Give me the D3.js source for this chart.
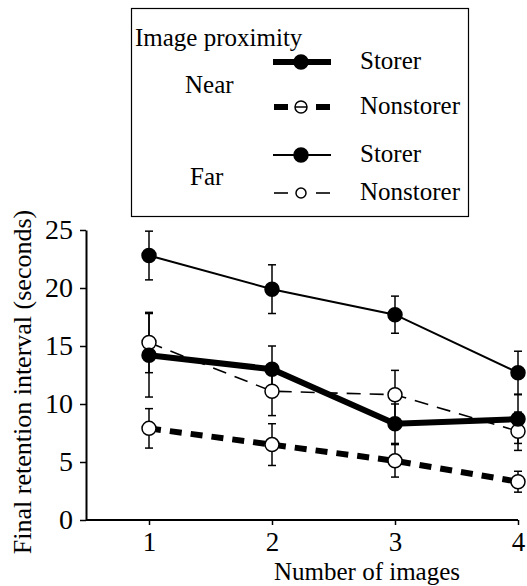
<!DOCTYPE html>
<html>
<head>
<meta charset="utf-8">
<script src="https://cdn.jsdelivr.net/npm/d3@7"></script>
<style>
  body { margin: 0; background: #fff; }
  svg { display: block; }
  svg text { font-family: "Liberation Serif", Tinos, "Times New Roman", Times, "DejaVu Serif", serif; }
</style>
</head>
<body>
<div id="chart"></div>
<script>
// values
const numImages = [1, 2, 3, 4]
const nearStorer = [14.2, 13.0, 8.3, 8.7]
const nearStorerErr = [3.6, 2.0, 1.7, 2.1]
const nearNonstorer = [7.9, 6.5, 5.1, 3.3]
const nearNonstorerErr = [1.7, 1.8, 1.4, 0.9]
const farStorer = [22.8, 19.9, 17.7, 12.7]
const farStorerErr = [2.1, 2.1, 1.6, 1.85]
const farNonstorer = [15.3, 11.1, 10.8, 7.65]
const farNonstorerErr = [2.6, 2.1, 2.1, 1.65]
const yTicks = [0, 5, 10, 15, 20, 25]

const W = 527, H = 586

const styles = {
    nearStorer: { width: 6, dash: null, fill: '#000', r: 7 },
    nearNonstorer: { width: 6, dash: '12,9', fill: '#fff', r: 7 },
    farStorer: { width: 2, dash: null, fill: '#000', r: 7 },
    farNonstorer: { width: 1.6, dash: '14,9', fill: '#fff', r: 7 }
}

const series = [
    { key: 'farNonstorer', values: farNonstorer, err: farNonstorerErr },
    { key: 'nearNonstorer', values: nearNonstorer, err: nearNonstorerErr },
    { key: 'farStorer', values: farStorer, err: farStorerErr },
    { key: 'nearStorer', values: nearStorer, err: nearStorerErr }
]

const svg = d3.select('#chart').append('svg')
    .attr('width', W)
    .attr('height', H)

const x = d3.scaleLinear().domain([1, 4]).range([149, 518])
const y = d3.scaleLinear().domain([0, 25]).range([520, 230])
const x0 = 86

// axes
const yAxis = svg.append('g')
    .attr('transform', `translate(${x0},0)`)
    .call(d3.axisLeft(y).tickValues(yTicks).tickSize(6).tickSizeOuter(0).tickPadding(7))
yAxis.attr('font-family', null)
yAxis.select('.domain').attr('stroke-width', 2)
yAxis.selectAll('.tick line').attr('stroke-width', 1.5)
yAxis.selectAll('text').attr('font-size', 28).attr('fill', '#000')

const xAxis = svg.append('g')
    .attr('transform', `translate(0,${y(0)})`)
    .call(d3.axisBottom(x).tickValues(numImages).tickFormat(d3.format('d')).tickSize(5).tickSizeOuter(0).tickPadding(7))
xAxis.attr('font-family', null)
xAxis.select('.domain').remove()
xAxis.append('line')
    .attr('x1', x0).attr('x2', x(4))
    .attr('stroke', '#000').attr('stroke-width', 2)
xAxis.selectAll('.tick line').attr('stroke-width', 1.5)
xAxis.selectAll('text').attr('font-size', 27).attr('fill', '#000')

svg.append('text')
    .attr('x', 367).attr('y', 580)
    .attr('text-anchor', 'middle')
    .attr('font-size', 25)
    .text('Number of images')

svg.append('text')
    .attr('transform', 'translate(31,382) rotate(-90)')
    .attr('text-anchor', 'middle')
    .attr('font-size', 26)
    .text('Final retention interval (seconds)')

// lines
const line = d3.line().x((d, i) => x(numImages[i])).y(d => y(d))

svg.selectAll('path.series').data(series).enter()
    .append('path')
    .attr('class', 'series')
    .attr('d', d => line(d.values))
    .attr('fill', 'none')
    .attr('stroke', '#000')
    .attr('stroke-width', d => styles[d.key].width)
    .attr('stroke-dasharray', d => styles[d.key].dash)

// error bars
const bars = series.flatMap(s => s.values.map((v, i) => ({ x: numImages[i], v, e: s.err[i] })))
const eb = svg.append('g').attr('stroke', '#000').attr('stroke-width', 1.5)
eb.selectAll('line.stem').data(bars).enter().append('line')
    .attr('x1', d => x(d.x)).attr('x2', d => x(d.x))
    .attr('y1', d => y(d.v - d.e)).attr('y2', d => y(d.v + d.e))
eb.selectAll('line.cap').data(bars.flatMap(d => [d.v - d.e, d.v + d.e].map(c => ({ x: d.x, c })))).enter().append('line')
    .attr('x1', d => x(d.x) - 4).attr('x2', d => x(d.x) + 4)
    .attr('y1', d => y(d.c)).attr('y2', d => y(d.c))

// markers
series.forEach(s => {
    const st = styles[s.key]
    svg.append('g').selectAll('circle').data(s.values).enter()
        .append('circle')
        .attr('cx', (d, i) => x(numImages[i]))
        .attr('cy', d => y(d))
        .attr('r', st.r)
        .attr('fill', st.fill)
        .attr('stroke', '#000')
        .attr('stroke-width', 1.5)
})

// legend
const legend = svg.append('g')
legend.append('rect')
    .attr('x', 131.5).attr('y', 8.5)
    .attr('width', 337).attr('height', 208)
    .attr('fill', '#fff').attr('stroke', '#000').attr('stroke-width', 1.2)

legend.append('text').attr('x', 135).attr('y', 46).attr('font-size', 25).text('Image proximity')
legend.append('text').attr('x', 185).attr('y', 93).attr('font-size', 25).text('Near')
legend.append('text').attr('x', 190).attr('y', 185).attr('font-size', 25).text('Far')

const legendRows = [
    { key: 'nearStorer', label: 'Storer', ly: 62, r: 7 },
    { key: 'nearNonstorer', label: 'Nonstorer', ly: 107, r: 6 },
    { key: 'farStorer', label: 'Storer', ly: 155, r: 7 },
    { key: 'farNonstorer', label: 'Nonstorer', ly: 193, r: 5 }
]

legendRows.forEach(row => {
    const st = styles[row.key]
    const g = legend.append('g')
    if (st.dash) {
        g.append('line').attr('x1', 274).attr('x2', 288).attr('y1', row.ly).attr('y2', row.ly)
            .attr('stroke', '#000').attr('stroke-width', st.width)
        g.append('line').attr('x1', 316).attr('x2', 330).attr('y1', row.ly).attr('y2', row.ly)
            .attr('stroke', '#000').attr('stroke-width', st.width)
    } else {
        g.append('line').attr('x1', 273).attr('x2', 331).attr('y1', row.ly).attr('y2', row.ly)
            .attr('stroke', '#000').attr('stroke-width', st.width)
    }
    g.append('circle').attr('cx', 301).attr('cy', row.ly).attr('r', row.r)
        .attr('fill', st.fill).attr('stroke', '#000').attr('stroke-width', 1.5)
    if (row.key === 'nearNonstorer') {
        g.append('line').attr('x1', 295).attr('x2', 307).attr('y1', row.ly).attr('y2', row.ly)
            .attr('stroke', '#000').attr('stroke-width', 1.5)
    }
    g.append('text').attr('x', 360).attr('y', row.ly + 7).attr('font-size', 25).text(row.label)
})
</script>
</body>
</html>
